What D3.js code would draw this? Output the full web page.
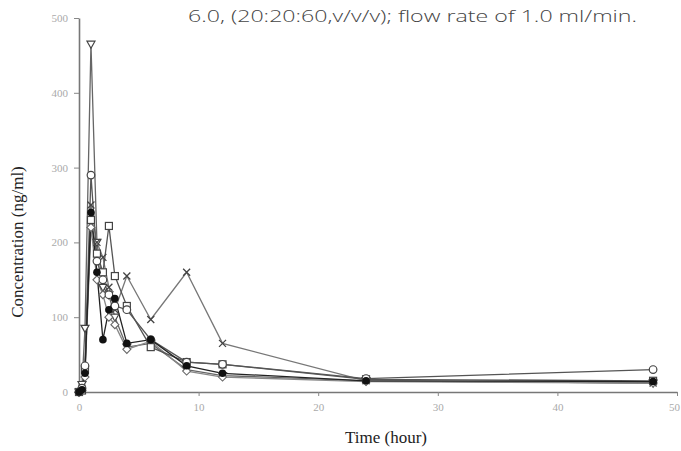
<!DOCTYPE html>
<html><head><meta charset="utf-8">
<script src="https://cdn.jsdelivr.net/npm/d3@7"></script>
<style>body{margin:0;background:#fff}svg{display:block}</style>
</head><body>
<svg id="c" width="681" height="451"></svg>
<script>
const times = [0, 0.25, 0.5, 1, 1.5, 2, 2.5, 3, 4, 6, 9, 12, 24, 48];
const openCircle   = [0, 5, 35, 290, 175, 150, 130, 115, 110, 70, 40, 37, 18, 30];
const filledCircle = [0, 3, 25, 240, 160, 70, 110, 125, 65, 70, 35, 25, 15, 14];
const triangleDown = [0, 10, 85, 465, 200, 140, 130, 100, 60, 65, 30, 22, 15, 12];
const openSquare   = [0, 2, 30, 230, 185, 160, 222, 155, 115, 60, 40, 37, 17, 15];
const crossMark    = [0, 5, 30, 250, 200, 180, 140, 110, 155, 97, 160, 65, 15, 12];
const openDiamond  = [0, 2, 20, 220, 150, 130, 100, 90, 57, 68, 28, 20, 14, 12];
const xTicks = [0, 10, 20, 30, 40, 50];
const yTicks = [0, 100, 200, 300, 400, 500];
const titleText = "6.0, (20:20:60,v/v/v); flow rate of 1.0 ml/min.";

const svg = d3.select("#c");
const x = d3.scaleLinear().domain([0, 50]).range([79, 677]);
const y = d3.scaleLinear().domain([0, 500]).range([392, 18]);

svg.append("text").attr("x", 188).attr("y", 22).text(titleText)
  .attr("font-family", "'Open Sans', 'DejaVu Sans', sans-serif").attr("font-size", 16)
  .attr("font-weight", 300)
  .attr("fill", "#444").attr("textLength", 449).attr("lengthAdjust", "spacingAndGlyphs");

const xa = svg.append("g").attr("transform", "translate(0,392)")
  .call(d3.axisBottom(x).tickValues(xTicks).tickSize(4).tickSizeOuter(0));
const ya = svg.append("g").attr("transform", "translate(79,0)")
  .call(d3.axisLeft(y).tickValues(yTicks).tickSize(5).tickSizeOuter(0));
[xa, ya].forEach(a => {
  a.select(".domain").attr("stroke", "#777").attr("stroke-width", 1.6);
  a.selectAll(".tick line").attr("stroke", "#888");
  a.selectAll(".tick text").attr("font-family", "'Liberation Serif', serif")
    .attr("font-size", 11).attr("fill", "#aaa");
});
xa.selectAll(".tick text").attr("dy", "1.1em").attr("x", d => d === 50 ? -3 : 0);
ya.selectAll(".tick text").attr("x", -11);

svg.append("text").attr("transform", "translate(23,242) rotate(-90)")
  .attr("text-anchor", "middle").attr("font-family", "'Liberation Serif', serif")
  .attr("font-size", 17).attr("fill", "#222").text("Concentration (ng/ml)");
svg.append("text").attr("x", 386).attr("y", 443).attr("text-anchor", "middle")
  .attr("font-family", "'Liberation Serif', serif").attr("font-size", 17)
  .attr("fill", "#222").text("Time (hour)");

const series = [
  {v: triangleDown, m: "tri", c: "#666"},
  {v: crossMark, m: "x", c: "#777"},
  {v: openDiamond, m: "diamond", c: "#888"},
  {v: openSquare, m: "square", c: "#555"},
  {v: openCircle, m: "circle", c: "#555"},
  {v: filledCircle, m: "fcircle", c: "#222"},
];
const line = d3.line().x((d, i) => x(times[i])).y(d => y(d));
series.forEach(s => {
  svg.append("path").attr("d", line(s.v)).attr("fill", "none")
    .attr("stroke", s.c).attr("stroke-width", 1.3);
});
series.forEach(s => {
  const g = svg.append("g");
  s.v.forEach((d, i) => {
    const cx = x(times[i]), cy = y(d);
    if (s.m === "circle") g.append("circle").attr("cx", cx).attr("cy", cy).attr("r", 3.8).attr("fill", "#fff").attr("stroke", "#444").attr("stroke-width", 1.2);
    else if (s.m === "fcircle") g.append("circle").attr("cx", cx).attr("cy", cy).attr("r", 3.8).attr("fill", "#111");
    else if (s.m === "square") g.append("rect").attr("x", cx - 3.5).attr("y", cy - 3.5).attr("width", 7).attr("height", 7).attr("fill", "#fff").attr("stroke", "#444").attr("stroke-width", 1.2);
    else if (s.m === "tri") g.append("path").attr("d", `M${cx-4},${cy-3}L${cx+4},${cy-3}L${cx},${cy+4}Z`).attr("fill", "#fff").attr("stroke", "#444").attr("stroke-width", 1.2);
    else if (s.m === "diamond") g.append("path").attr("d", `M${cx},${cy-4}L${cx+4},${cy}L${cx},${cy+4}L${cx-4},${cy}Z`).attr("fill", "#fff").attr("stroke", "#666").attr("stroke-width", 1.1);
    else if (s.m === "x") g.append("path").attr("d", `M${cx-3.5},${cy-3.5}L${cx+3.5},${cy+3.5}M${cx+3.5},${cy-3.5}L${cx-3.5},${cy+3.5}`).attr("stroke", "#444").attr("stroke-width", 1.3);
  });
});
</script>
</body></html>
